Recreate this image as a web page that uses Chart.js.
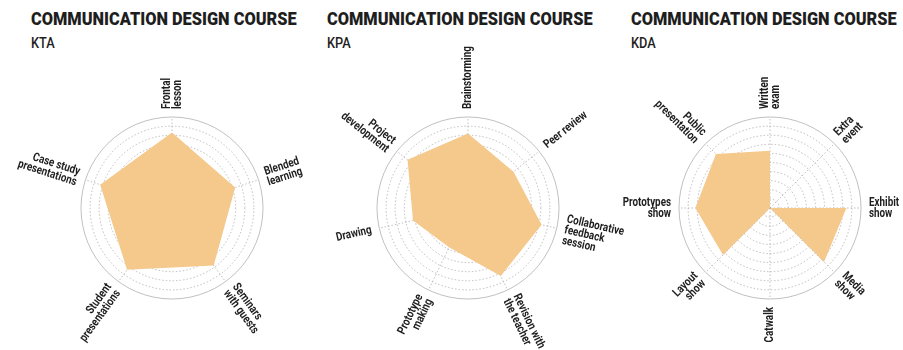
<!DOCTYPE html>
<html>
<head>
<meta charset="utf-8">
<script src="https://cdn.jsdelivr.net/npm/chart.js@4.4.0/dist/chart.umd.min.js"></script>
<style>
    html, body {
        margin: 0;
        padding: 0;
        width: 903px;
        height: 350px;
        overflow: hidden;
        background: #fff;
        position: relative;
        font-family: Roboto, "Liberation Sans", sans-serif;
        color: #1e1e1e;
    }
    .title, .sub {
        position: absolute;
        white-space: nowrap;
        transform-origin: 0 0;
    }
    .title {
        top: 7px;
        font-size: 19px;
        font-weight: 900;
    }
    .sub {
        top: 34px;
        font-size: 15px;
        font-weight: 500;
    }
    canvas {
        position: absolute;
        top: 0;
    }
</style>
</head>
<body>

<div class="title" style="left:31px">COMMUNICATION DESIGN COURSE</div>
<div class="sub"   style="left:31px">KTA</div>
<div class="title" style="left:327px">COMMUNICATION DESIGN COURSE</div>
<div class="sub"   style="left:327px">KPA</div>
<div class="title" style="left:631px">COMMUNICATION DESIGN COURSE</div>
<div class="sub"   style="left:631px">KDA</div>

<canvas id="kta" width="360" height="350"></canvas>
<canvas id="kpa" width="360" height="350"></canvas>
<canvas id="kda" width="360" height="350"></canvas>

<script>
// ─── DATA (0–10 scale) ──────────────────────────────────────────────────────
const ktaLabels = [
    ['Frontal', 'lesson'],
    ['Blended', 'learning'],
    ['Seminars', 'with guests'],
    ['Student', 'presentations'],
    ['Case study', 'presentations']
];
const ktaValues = [8.3, 7.3, 7.8, 8.4, 8.3];

const kpaLabels = [
    ['Brainstorming'],
    ['Peer review'],
    ['Collaborative', 'feedback', 'session'],
    ['Revision with', 'the teacher'],
    ['Prototype', 'making'],
    ['Drawing'],
    ['Project', 'development']
];
const kpaValues = [8.2, 6.4, 8.3, 8.3, 4.8, 6.2, 8.5];

const kdaLabels = [
    ['Written', 'exam'],
    ['Extra', 'event'],
    ['Exhibit', 'show'],
    ['Media', 'show'],
    ['Catwalk'],
    ['Layout', 'show'],
    ['Prototypes', 'show'],
    ['Public', 'presentation']
];
const kdaValues = [6.3, 0, 8.4, 8.4, 0, 7.3, 8.2, 8.4];

const scaleMax  = 10;
const scaleStep = 1;

// ─── LOOK ────────────────────────────────────────────────────────────────────
const FILL          = '#F5C88C';
const GRID          = 'rgba(150,150,150,0.6)';
const LABEL_FONT    = 'bold 12px Roboto, "Liberation Sans", sans-serif';
const LABEL_SQUEEZE = 0.82;   // condensed look, the print uses a narrow face
const LABEL_GAP     = 8;
const LINE_H        = 11;
const RADIUS        = 91;
const CENTER_Y      = 208;
const TITLE_W       = 266;
const SUB_SQUEEZE   = 0.85;

// squeeze the headings to the narrow width of the original
document.querySelectorAll('.title').forEach(el => {
    el.style.transform = 'scaleX(' + (TITLE_W / el.offsetWidth) + ')';
});
document.querySelectorAll('.sub').forEach(el => {
    el.style.transform = 'scaleX(' + SUB_SQUEEZE + ')';
});

// ─── ROTATED POINT LABELS ────────────────────────────────────────────────────
// text follows the spoke; on the left half it is turned round to stay readable
const radialLabels = {
    id: 'radialLabels',
    afterDraw(chart) {
        const scale = chart.scales.r;
        const ctx   = chart.ctx;

        ctx.save();
        ctx.font         = LABEL_FONT;
        ctx.fillStyle    = '#1e1e1e';
        ctx.textBaseline = 'middle';

        chart.data.labels.forEach((label, i) => {
            const pos  = scale.getPointPosition(i, scale.drawingArea + LABEL_GAP);
            let rot    = pos.angle;
            let flip   = false;
            if (rot > Math.PI / 2 - 1e-6) {
                rot -= Math.PI;
                flip = true;
            }
            const lines = [].concat(label);

            ctx.save();
            ctx.translate(pos.x, pos.y);
            ctx.rotate(rot);
            ctx.scale(LABEL_SQUEEZE, 1);
            ctx.textAlign = flip ? 'right' : 'left';
            lines.forEach((line, k) => {
                ctx.fillText(line, 0, (k - (lines.length - 1) / 2) * LINE_H);
            });
            ctx.restore();
        });

        ctx.restore();
    }
};

// ─── BUILD ───────────────────────────────────────────────────────────────────
function makeRadar(id, centerX, labels, values) {
    const canvas = document.getElementById(id);
    const w = canvas.width;
    const h = canvas.height;
    canvas.style.left = (centerX - w / 2) + 'px';

    const side = (w - 2 * RADIUS) / 2;

    return new Chart(canvas, {
        type: 'radar',
        data: {
            labels: labels,
            datasets: [{
                data: values,
                backgroundColor: FILL,
                borderWidth: 0,
                pointRadius: 0,
                fill: true
            }]
        },
        options: {
            responsive: false,
            animation: false,
            layout: {
                padding: {
                    left: side,
                    right: side,
                    top: CENTER_Y - RADIUS,
                    bottom: h - CENTER_Y - RADIUS
                }
            },
            plugins: {
                legend:  { display: false },
                tooltip: { enabled: false }
            },
            scales: {
                r: {
                    z: 1,
                    min: 0,
                    max: scaleMax,
                    ticks: { display: false, stepSize: scaleStep },
                    pointLabels: { display: false },
                    grid: {
                        circular: true,
                        color: GRID,
                        lineWidth: 1
                    },
                    border: {
                        dash: c => c.index === scaleMax / scaleStep ? [] : [1.5, 2]
                    },
                    angleLines: {
                        color: GRID,
                        lineWidth: 1,
                        borderDash: [1.5, 2]
                    }
                }
            }
        },
        plugins: [radialLabels]
    });
}

makeRadar('kta', 172, ktaLabels, ktaValues);
makeRadar('kpa', 468, kpaLabels, kpaValues);
makeRadar('kda', 770, kdaLabels, kdaValues);
</script>
</body>
</html>
